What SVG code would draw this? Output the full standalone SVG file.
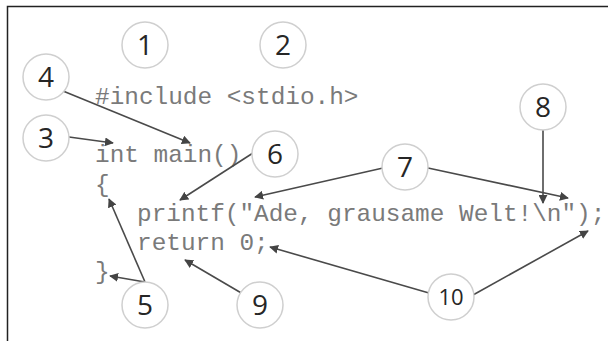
<svg xmlns="http://www.w3.org/2000/svg" width="608" height="341" viewBox="0 0 608 341">
<defs>
<marker id="ah" viewBox="0 0 10 10" refX="9" refY="5" markerWidth="9" markerHeight="9" markerUnits="userSpaceOnUse" orient="auto">
<path d="M0,0 L10,5 L0,10 z" fill="#444"/>
</marker>
<style>
.code{font-family:"Liberation Mono","Courier New",monospace;font-size:24.4px;fill:#7a7a7a;}
.num circle{fill:#fff;stroke:#cfcfcf;stroke-width:1.5;}
.num text{font-family:"Open Sans","Noto Sans",sans-serif;font-size:28px;fill:#262626;text-anchor:middle;}
.conn line{stroke:#4a4a4a;stroke-width:1.6;marker-end:url(#ah);}
</style>
</defs>
<rect width="608" height="341" fill="#fff"/>
<path d="M7.5,341 V6.5 H608" fill="none" stroke="#222" stroke-width="1.5"/>
<g id="code">
<text class="code" x="95" y="104">#include &lt;stdio.h&gt;</text>
<text class="code" x="95" y="162">int main()</text>
<text class="code" x="95" y="192">{</text>
<text class="code" x="137" y="221">printf("Ade, grausame Welt!\n");</text>
<text class="code" x="137" y="250">return 0;</text>
<text class="code" x="95" y="279">}</text>
</g>
<g id="connectors" class="conn">
<line x1="63" y1="91" x2="190" y2="143"/>
<line x1="69" y1="137" x2="113" y2="143"/>
<line x1="253" y1="153" x2="180" y2="200"/>
<line x1="383" y1="168" x2="255" y2="197"/>
<line x1="428" y1="168" x2="568" y2="198"/>
<line x1="543" y1="130" x2="543" y2="203"/>
<line x1="473" y1="295" x2="588" y2="231"/>
<line x1="429" y1="293" x2="270" y2="247"/>
<line x1="145" y1="282" x2="109" y2="199"/>
<line x1="145" y1="282" x2="110" y2="276"/>
<line x1="243" y1="294" x2="185" y2="260"/>
</g>
<g id="n1" class="num"><circle cx="145" cy="45" r="23"/><text x="145" y="55">1</text></g>
<g id="n2" class="num"><circle cx="283" cy="45" r="23"/><text x="283" y="55">2</text></g>
<g id="n3" class="num"><circle cx="46" cy="138" r="23"/><text x="46" y="148">3</text></g>
<g id="n4" class="num"><circle cx="46" cy="77" r="23"/><text x="46" y="87">4</text></g>
<g id="n5" class="num"><circle cx="145" cy="305" r="23"/><text x="145" y="315">5</text></g>
<g id="n6" class="num"><circle cx="275" cy="154" r="23"/><text x="275" y="164">6</text></g>
<g id="n7" class="num"><circle cx="405" cy="167" r="23"/><text x="405" y="177">7</text></g>
<g id="n8" class="num"><circle cx="543" cy="107" r="23"/><text x="543" y="117">8</text></g>
<g id="n9" class="num"><circle cx="260" cy="305" r="23"/><text x="260" y="315">9</text></g>
<g id="n10" class="num"><circle cx="451" cy="297" r="23"/><text x="451" y="305" style="font-size:22px">10</text></g>
</svg>
